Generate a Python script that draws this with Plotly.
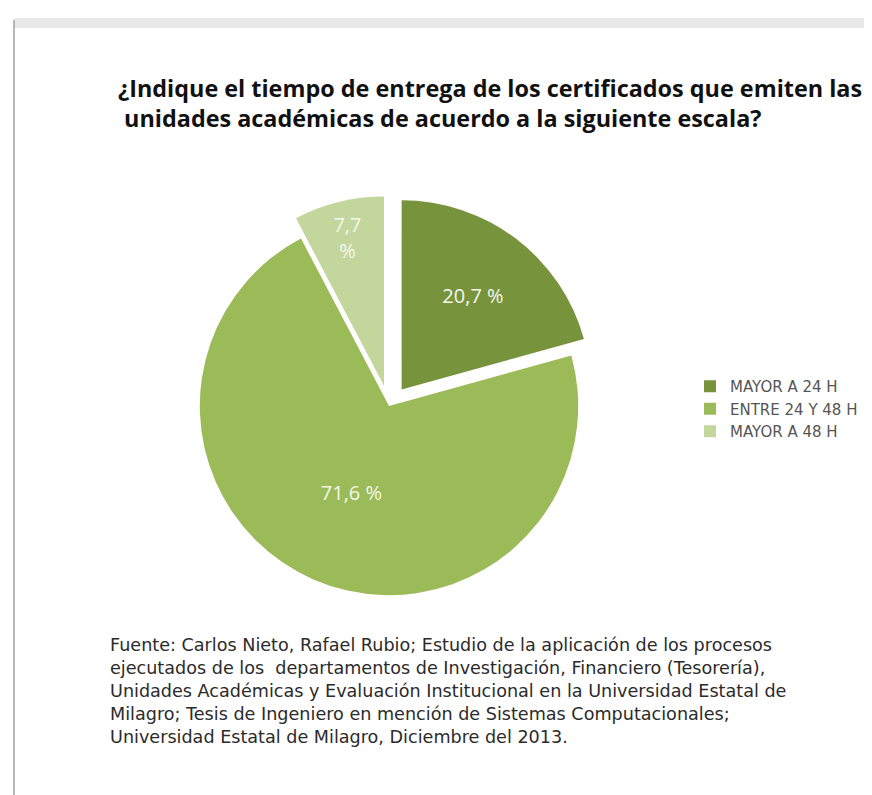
import plotly.graph_objects as go

categories = ["MAYOR A 24 H", "ENTRE 24 Y 48 H", "MAYOR A 48 H"]
values = [20.7, 71.6, 7.7]
slice_labels = ["20,7 %", "71,6 %", "7,7<br>%"]
colors = ["#77933C", "#9BBB59", "#C3D69B"]
pulls = [0.11, 0.0, 0.11]

title_text = ("¿Indique el tiempo de entrega de los certificados que emiten las<br>"
              " unidades académicas de acuerdo a la siguiente escala?")
source_text = ("Fuente: Carlos Nieto, Rafael Rubio; Estudio de la aplicación de los procesos<br>"
               "ejecutados de los  departamentos de Investigación, Financiero (Tesorería),<br>"
               "Unidades Académicas y Evaluación Institucional en la Universidad Estatal de<br>"
               "Milagro; Tesis de Ingeniero en mención de Sistemas Computacionales;<br>"
               "Universidad Estatal de Milagro, Diciembre del 2013.")

W, H = 872, 795
cx, cy, half = 381, 398, 210

fig = go.Figure(go.Pie(
    labels=categories,
    values=values,
    text=slice_labels,
    texttemplate="%{text}",
    textposition="inside",
    insidetextorientation="horizontal",
    textfont=dict(family="Open Sans", size=20, color="#F4F6EE"),
    marker=dict(colors=colors, line=dict(width=0)),
    pull=pulls,
    sort=False,
    direction="clockwise",
    rotation=0,
    hoverinfo="label+percent",
    domain=dict(x=[(cx - half) / W, (cx + half) / W],
                y=[(H - cy - half) / H, (H - cy + half) / H]),
))

fig.update_layout(
    width=W, height=H,
    margin=dict(l=0, r=0, t=0, b=0),
    paper_bgcolor="white",
    showlegend=True,
    legend=dict(x=682 / W, y=1 - 362 / H, xanchor="left", yanchor="top",
                font=dict(family="DejaVu Sans", size=15, color="#555555"),
                itemwidth=30, tracegroupgap=0),
    annotations=[
        dict(text="<b>" + title_text + "</b>", x=108 / W, y=1 - 62 / H,
             xref="paper", yref="paper", xanchor="left", yanchor="top",
             align="left", showarrow=False,
             font=dict(family="Open Sans", size=23.4, color="#111111")),
        dict(text=source_text, x=100 / W, y=1 - 625 / H,
             xref="paper", yref="paper", xanchor="left", yanchor="top",
             align="left", showarrow=False,
             font=dict(family="DejaVu Sans", size=17.6, color="#2B2B2B")),
    ],
    shapes=[
        dict(type="rect", xref="paper", yref="paper", x0=6 / W, x1=1,
             y0=1 - 20 / H, y1=1 - 10 / H, fillcolor="#E8E8E8", line=dict(width=0)),
        dict(type="line", xref="paper", yref="paper", x0=6 / W, x1=6 / W,
             y0=1 - 790 / H, y1=1 - 12 / H, line=dict(color="#A0A0A0", width=1.5)),
        dict(type="line", xref="paper", yref="paper", x0=6 / W, x1=1,
             y0=1 - 789 / H, y1=1 - 789 / H, line=dict(color="#E4E4E4", width=1)),
    ],
)

fig.write_html("out.html")
